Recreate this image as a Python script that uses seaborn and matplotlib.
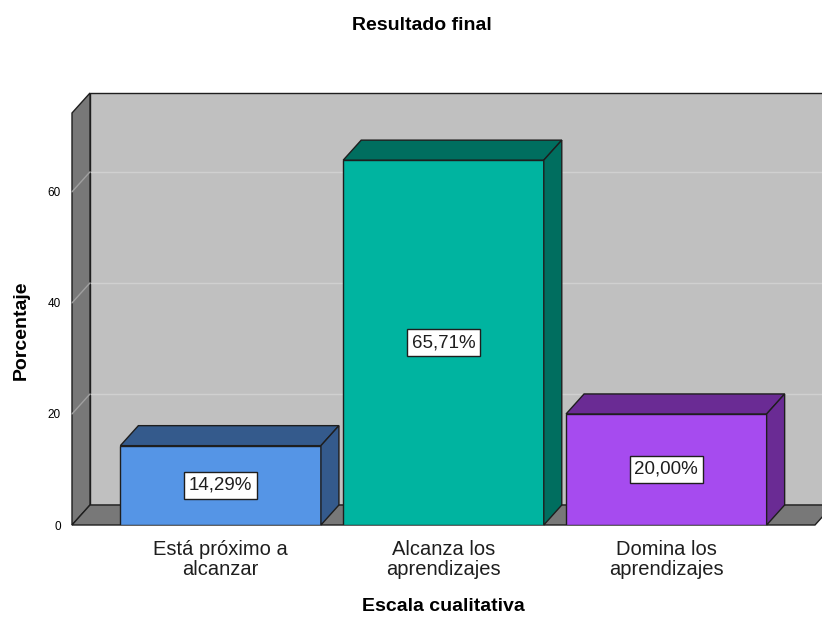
import numpy as np
import matplotlib
matplotlib.use("Agg")
import matplotlib.pyplot as plt
import seaborn as sns
from matplotlib.patches import Polygon, Rectangle

# Data
categories = ["Está próximo a\nalcanzar", "Alcanza los\naprendizajes", "Domina los\naprendizajes"]
percentages = [14.29, 65.71, 20.00]
value_labels = ["14,29%", "65,71%", "20,00%"]
y_ticks = [0, 20, 40, 60]

front_colors = ["#5595E6", "#00B4A0", "#A64BEF"]
dark_colors = ["#345A8C", "#006E5F", "#6A2B94"]

sns.set_theme(style="white")
plt.rcParams['font.family'] = ['Liberation Sans', 'DejaVu Sans']
plt.rcParams['text.color'] = 'black'

fig = plt.figure(figsize=(8.22, 6.17), dpi=100)
ax = fig.add_axes([72 / 822, 92 / 617, 743 / 822, 412 / 617])
ax.set_facecolor("none")

sns.barplot(x=categories, y=percentages, hue=categories, palette=front_colors,
            saturation=1, width=0.9, edgecolor="#1e1e1e", linewidth=1.0,
            legend=False, ax=ax, zorder=3)
bars = [p for p in ax.patches]

x0, x1 = -0.667, 2.667
y0, y1 = 0, 74.2
ax.set_xlim(x0, x1)
ax.set_ylim(y0, y1)

# depth offset (18 px right, 20 px up) in data units
ax_w = 743
ax_h = 412
dx = 18 * (x1 - x0) / ax_w
dy = 20 * (y1 - y0) / ax_h

# back wall
ax.add_patch(Rectangle((x0 + dx, dy), (x1 - x0) + 0.2, y1, facecolor="#c0c0c0",
                       edgecolor="#1e1e1e", linewidth=1.0, zorder=0, clip_on=False))
# back wall gridlines
for t in y_ticks[1:]:
    ax.plot([x0 + dx, x1 + 0.3], [t + dy, t + dy], color="#d0d0d0", lw=1.0,
            zorder=0.5, clip_on=False)
# left wall
ax.add_patch(Polygon([(x0, 0), (x0, y1), (x0 + dx, y1 + dy), (x0 + dx, dy)],
                     closed=True, facecolor="#787878", edgecolor="#1e1e1e",
                     linewidth=1.0, zorder=1, clip_on=False))
for t in y_ticks[1:]:
    ax.plot([x0, x0 + dx], [t, t + dy], color="#a0a0a0", lw=1.0, zorder=1.5,
            clip_on=False)
# floor
ax.add_patch(Polygon([(x0, 0), (x1, 0), (x1 + dx, dy), (x0 + dx, dy)],
                     closed=True, facecolor="#787878", edgecolor="#1e1e1e",
                     linewidth=1.0, zorder=1, clip_on=False))

# 3D tops and sides of bars
for i, bar in enumerate(bars):
    bx = bar.get_x()
    bw = bar.get_width()
    h = bar.get_height()
    top = Polygon([(bx, h), (bx + bw, h), (bx + bw + dx, h + dy), (bx + dx, h + dy)],
                  closed=True, facecolor=dark_colors[i], edgecolor="#1e1e1e",
                  linewidth=1.0, zorder=3, clip_on=False)
    side = Polygon([(bx + bw, 0), (bx + bw, h), (bx + bw + dx, h + dy), (bx + bw + dx, dy)],
                   closed=True, facecolor=dark_colors[i], edgecolor="#1e1e1e",
                   linewidth=1.0, zorder=3, clip_on=False)
    ax.add_patch(top)
    ax.add_patch(side)
    ax.text(bx + bw / 2, h / 2, value_labels[i], ha="center", va="center",
            fontsize=13.5, color="#1e1e1e", zorder=5,
            bbox=dict(boxstyle="square,pad=0.25", facecolor="white",
                      edgecolor="#1e1e1e", linewidth=1.0))

for s in ax.spines.values():
    s.set_visible(False)
ax.set_yticks(y_ticks)
ax.set_yticklabels([str(t) for t in y_ticks], fontsize=8.5, color="black")
ax.tick_params(axis="y", length=0, pad=8)
ax.tick_params(axis="x", length=0, pad=11, labelsize=14.5, labelcolor="#1e1e1e")
for lbl in ax.get_xticklabels():
    lbl.set_linespacing(1.05)

ax.set_xlabel("Escala cualitativa", fontsize=14, fontweight="bold", color="black")
ax.xaxis.set_label_coords(0.4993, -0.199)
ax.xaxis.label.set_va("center")
ax.set_ylabel("Porcentaje", fontsize=14, fontweight="bold", color="black")
ax.yaxis.set_label_coords(-0.068, 0.473)
ax.yaxis.label.set_va("center")
fig.text(0.513, 0.958, "Resultado final", ha="center", va="center",
         fontsize=14, fontweight="bold", color="black")

fig.savefig("out.png", dpi=100)
